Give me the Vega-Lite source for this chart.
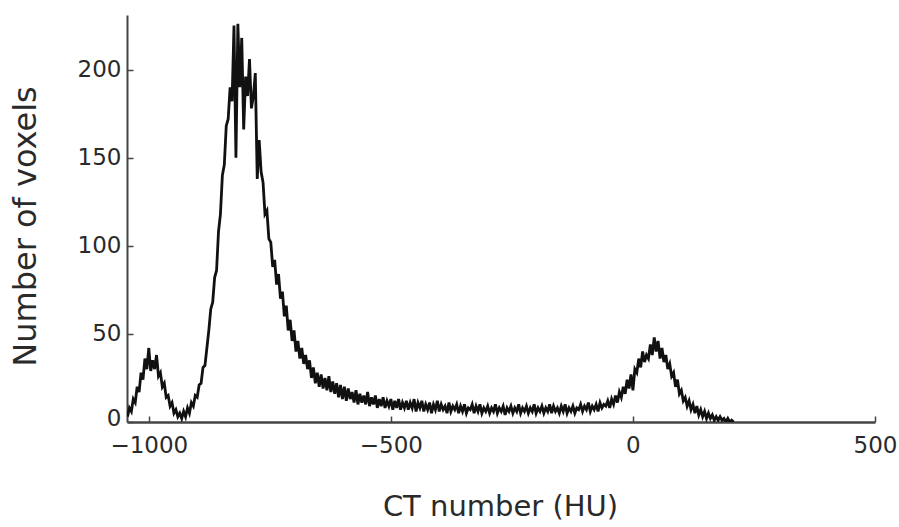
{
  "$schema": "https://vega.github.io/schema/vega-lite/v6.json",
  "width": 748,
  "height": 407,
  "autosize": "none",
  "padding": {"left": 127, "top": 15, "right": 24, "bottom": 105},
  "background": "white",
  "config": {"view": {"stroke": null}},
  "data": {"values": [
    {"hu": -1044, "n": 3}, {"hu": -1040, "n": 8}, {"hu": -1036, "n": 6}, {"hu": -1032, "n": 13}, {"hu": -1028, "n": 11},
    {"hu": -1024, "n": 20}, {"hu": -1020, "n": 17}, {"hu": -1016, "n": 28}, {"hu": -1012, "n": 24}, {"hu": -1008, "n": 36},
    {"hu": -1004, "n": 30}, {"hu": -1000, "n": 42}, {"hu": -996, "n": 29}, {"hu": -992, "n": 35}, {"hu": -988, "n": 30},
    {"hu": -984, "n": 38}, {"hu": -980, "n": 26}, {"hu": -976, "n": 28}, {"hu": -972, "n": 20}, {"hu": -968, "n": 22},
    {"hu": -964, "n": 14}, {"hu": -960, "n": 15}, {"hu": -956, "n": 9}, {"hu": -952, "n": 11}, {"hu": -948, "n": 5},
    {"hu": -944, "n": 7}, {"hu": -940, "n": 3}, {"hu": -936, "n": 5}, {"hu": -932, "n": 2}, {"hu": -928, "n": 6},
    {"hu": -924, "n": 3}, {"hu": -920, "n": 8}, {"hu": -916, "n": 5}, {"hu": -912, "n": 11}, {"hu": -908, "n": 9},
    {"hu": -904, "n": 15}, {"hu": -900, "n": 14}, {"hu": -896, "n": 21}, {"hu": -892, "n": 22}, {"hu": -888, "n": 31},
    {"hu": -884, "n": 32}, {"hu": -880, "n": 42}, {"hu": -876, "n": 52}, {"hu": -872, "n": 64}, {"hu": -868, "n": 68},
    {"hu": -864, "n": 82}, {"hu": -860, "n": 86}, {"hu": -856, "n": 108}, {"hu": -852, "n": 118}, {"hu": -848, "n": 140},
    {"hu": -844, "n": 146}, {"hu": -840, "n": 168}, {"hu": -836, "n": 172}, {"hu": -832, "n": 190}, {"hu": -828, "n": 182},
    {"hu": -824, "n": 225}, {"hu": -820, "n": 150}, {"hu": -816, "n": 226}, {"hu": -812, "n": 190}, {"hu": -808, "n": 218},
    {"hu": -804, "n": 166}, {"hu": -800, "n": 196}, {"hu": -796, "n": 185}, {"hu": -792, "n": 206}, {"hu": -788, "n": 178},
    {"hu": -784, "n": 185}, {"hu": -780, "n": 198}, {"hu": -776, "n": 138}, {"hu": -772, "n": 160}, {"hu": -768, "n": 142},
    {"hu": -764, "n": 136}, {"hu": -760, "n": 118}, {"hu": -756, "n": 120}, {"hu": -752, "n": 104}, {"hu": -748, "n": 102},
    {"hu": -744, "n": 88}, {"hu": -740, "n": 92}, {"hu": -736, "n": 78}, {"hu": -732, "n": 84}, {"hu": -728, "n": 70},
    {"hu": -724, "n": 74}, {"hu": -720, "n": 60}, {"hu": -716, "n": 66}, {"hu": -712, "n": 52}, {"hu": -708, "n": 58},
    {"hu": -704, "n": 46}, {"hu": -700, "n": 52}, {"hu": -696, "n": 40}, {"hu": -692, "n": 46}, {"hu": -688, "n": 36},
    {"hu": -684, "n": 42}, {"hu": -680, "n": 33}, {"hu": -676, "n": 38}, {"hu": -672, "n": 30}, {"hu": -668, "n": 35},
    {"hu": -664, "n": 25}, {"hu": -660, "n": 31}, {"hu": -656, "n": 22}, {"hu": -652, "n": 28}, {"hu": -648, "n": 20},
    {"hu": -644, "n": 27}, {"hu": -640, "n": 19}, {"hu": -636, "n": 25}, {"hu": -632, "n": 18}, {"hu": -628, "n": 26},
    {"hu": -624, "n": 17}, {"hu": -620, "n": 23}, {"hu": -616, "n": 16}, {"hu": -612, "n": 22}, {"hu": -608, "n": 14},
    {"hu": -604, "n": 21}, {"hu": -600, "n": 13}, {"hu": -596, "n": 20}, {"hu": -592, "n": 12}, {"hu": -588, "n": 19},
    {"hu": -584, "n": 13}, {"hu": -580, "n": 17}, {"hu": -576, "n": 11}, {"hu": -572, "n": 18}, {"hu": -568, "n": 10},
    {"hu": -564, "n": 16}, {"hu": -560, "n": 11}, {"hu": -556, "n": 15}, {"hu": -552, "n": 10}, {"hu": -548, "n": 17},
    {"hu": -544, "n": 9}, {"hu": -540, "n": 14}, {"hu": -536, "n": 10}, {"hu": -532, "n": 15}, {"hu": -528, "n": 8},
    {"hu": -524, "n": 13}, {"hu": -520, "n": 9}, {"hu": -516, "n": 14}, {"hu": -512, "n": 8}, {"hu": -508, "n": 12},
    {"hu": -504, "n": 9}, {"hu": -500, "n": 13}, {"hu": -496, "n": 7}, {"hu": -492, "n": 12}, {"hu": -488, "n": 8},
    {"hu": -484, "n": 13}, {"hu": -480, "n": 7}, {"hu": -476, "n": 11}, {"hu": -472, "n": 8}, {"hu": -468, "n": 12},
    {"hu": -464, "n": 7}, {"hu": -460, "n": 11}, {"hu": -456, "n": 8}, {"hu": -452, "n": 13}, {"hu": -448, "n": 6},
    {"hu": -444, "n": 11}, {"hu": -440, "n": 8}, {"hu": -436, "n": 12}, {"hu": -432, "n": 6}, {"hu": -428, "n": 10},
    {"hu": -424, "n": 7}, {"hu": -420, "n": 11}, {"hu": -416, "n": 5}, {"hu": -412, "n": 10}, {"hu": -408, "n": 7},
    {"hu": -404, "n": 12}, {"hu": -400, "n": 6}, {"hu": -396, "n": 10}, {"hu": -392, "n": 7}, {"hu": -388, "n": 9},
    {"hu": -384, "n": 5}, {"hu": -380, "n": 11}, {"hu": -376, "n": 6}, {"hu": -372, "n": 9}, {"hu": -368, "n": 7},
    {"hu": -364, "n": 10}, {"hu": -360, "n": 5}, {"hu": -356, "n": 9}, {"hu": -352, "n": 6}, {"hu": -348, "n": 10},
    {"hu": -344, "n": 5}, {"hu": -340, "n": 8}, {"hu": -336, "n": 7}, {"hu": -332, "n": 10}, {"hu": -328, "n": 5},
    {"hu": -324, "n": 9}, {"hu": -320, "n": 6}, {"hu": -316, "n": 10}, {"hu": -312, "n": 5}, {"hu": -308, "n": 8},
    {"hu": -304, "n": 6}, {"hu": -300, "n": 9}, {"hu": -296, "n": 5}, {"hu": -292, "n": 8}, {"hu": -288, "n": 6},
    {"hu": -284, "n": 10}, {"hu": -280, "n": 5}, {"hu": -276, "n": 8}, {"hu": -272, "n": 6}, {"hu": -268, "n": 9},
    {"hu": -264, "n": 4}, {"hu": -260, "n": 8}, {"hu": -256, "n": 6}, {"hu": -252, "n": 9}, {"hu": -248, "n": 5},
    {"hu": -244, "n": 8}, {"hu": -240, "n": 6}, {"hu": -236, "n": 10}, {"hu": -232, "n": 5}, {"hu": -228, "n": 8},
    {"hu": -224, "n": 6}, {"hu": -220, "n": 9}, {"hu": -216, "n": 5}, {"hu": -212, "n": 8}, {"hu": -208, "n": 6},
    {"hu": -204, "n": 10}, {"hu": -200, "n": 5}, {"hu": -196, "n": 8}, {"hu": -192, "n": 6}, {"hu": -188, "n": 9},
    {"hu": -184, "n": 5}, {"hu": -180, "n": 8}, {"hu": -176, "n": 6}, {"hu": -172, "n": 10}, {"hu": -168, "n": 5},
    {"hu": -164, "n": 9}, {"hu": -160, "n": 6}, {"hu": -156, "n": 8}, {"hu": -152, "n": 5}, {"hu": -148, "n": 9},
    {"hu": -144, "n": 6}, {"hu": -140, "n": 10}, {"hu": -136, "n": 5}, {"hu": -132, "n": 8}, {"hu": -128, "n": 6},
    {"hu": -124, "n": 9}, {"hu": -120, "n": 5}, {"hu": -116, "n": 8}, {"hu": -112, "n": 7}, {"hu": -108, "n": 10},
    {"hu": -104, "n": 6}, {"hu": -100, "n": 9}, {"hu": -96, "n": 7}, {"hu": -92, "n": 11}, {"hu": -88, "n": 6},
    {"hu": -84, "n": 9}, {"hu": -80, "n": 7}, {"hu": -76, "n": 10}, {"hu": -72, "n": 6}, {"hu": -68, "n": 11},
    {"hu": -64, "n": 8}, {"hu": -60, "n": 10}, {"hu": -56, "n": 9}, {"hu": -52, "n": 12}, {"hu": -48, "n": 8},
    {"hu": -44, "n": 13}, {"hu": -40, "n": 10}, {"hu": -36, "n": 15}, {"hu": -32, "n": 11}, {"hu": -28, "n": 17},
    {"hu": -24, "n": 14}, {"hu": -20, "n": 20}, {"hu": -16, "n": 16}, {"hu": -12, "n": 24}, {"hu": -8, "n": 19},
    {"hu": -4, "n": 27}, {"hu": 0, "n": 18}, {"hu": 4, "n": 30}, {"hu": 8, "n": 28}, {"hu": 12, "n": 36},
    {"hu": 16, "n": 31}, {"hu": 20, "n": 40}, {"hu": 24, "n": 34}, {"hu": 28, "n": 38}, {"hu": 32, "n": 36},
    {"hu": 36, "n": 44}, {"hu": 40, "n": 38}, {"hu": 44, "n": 48}, {"hu": 48, "n": 40}, {"hu": 52, "n": 46},
    {"hu": 56, "n": 36}, {"hu": 60, "n": 42}, {"hu": 64, "n": 34}, {"hu": 68, "n": 38}, {"hu": 72, "n": 30},
    {"hu": 76, "n": 33}, {"hu": 80, "n": 26}, {"hu": 84, "n": 28}, {"hu": 88, "n": 20}, {"hu": 92, "n": 24},
    {"hu": 96, "n": 16}, {"hu": 100, "n": 18}, {"hu": 104, "n": 12}, {"hu": 108, "n": 14}, {"hu": 112, "n": 9},
    {"hu": 116, "n": 12}, {"hu": 120, "n": 7}, {"hu": 124, "n": 10}, {"hu": 128, "n": 5}, {"hu": 132, "n": 9},
    {"hu": 136, "n": 4}, {"hu": 140, "n": 7}, {"hu": 144, "n": 3}, {"hu": 148, "n": 6}, {"hu": 152, "n": 2},
    {"hu": 156, "n": 5}, {"hu": 160, "n": 2}, {"hu": 164, "n": 4}, {"hu": 168, "n": 1}, {"hu": 172, "n": 3},
    {"hu": 176, "n": 1}, {"hu": 180, "n": 3}, {"hu": 184, "n": 1}, {"hu": 188, "n": 2}, {"hu": 192, "n": 0},
    {"hu": 196, "n": 2}, {"hu": 200, "n": 0}, {"hu": 204, "n": 1}, {"hu": 208, "n": 0}
  ]},
  "mark": {"type": "line", "color": "#111111", "strokeWidth": 2.8, "strokeJoin": "miter", "clip": true},
  "encoding": {
    "x": {
      "field": "hu", "type": "quantitative",
      "scale": {"domain": [-1045, 500], "nice": false, "zero": false},
      "axis": {
        "title": "CT number (HU)", "values": [-1000, -500, 0, 500], "format": "d",
        "grid": false, "domain": true, "domainColor": "#444444", "domainWidth": 2.5,
        "ticks": true, "tickSize": -6, "tickColor": "#444444", "tickWidth": 1.5,
        "labelFont": "DejaVu Sans", "labelFontSize": 23, "labelColor": "#2a2a2a", "labelPadding": 18,
        "labelFlush": false, "labelOverlap": false,
        "titleFont": "DejaVu Sans", "titleFontSize": 29, "titleFontWeight": "normal", "titleColor": "#2a2a2a",
        "titleX": 373, "titleY": 93, "titleBaseline": "alphabetic", "titleAlign": "center"
      }
    },
    "y": {
      "field": "n", "type": "quantitative",
      "scale": {"domain": [0, 231], "nice": false},
      "axis": {
        "title": "Number of voxels", "values": [0, 50, 100, 150, 200],
        "grid": false, "domain": true, "domainColor": "#444444", "domainWidth": 2,
        "ticks": true, "tickSize": -6, "tickColor": "#444444", "tickWidth": 1.5,
        "labelFont": "DejaVu Sans", "labelFontSize": 23, "labelColor": "#2a2a2a", "labelPadding": 12,
        "labelOffset": {"condition": {"test": "datum.value === 0", "value": -4}, "value": 0},
        "labelFlush": false, "labelOverlap": false,
        "titleFont": "DejaVu Sans", "titleFontSize": 32, "titleFontWeight": "normal", "titleColor": "#2a2a2a",
        "titleX": -92, "titleY": 211, "titleBaseline": "alphabetic", "titleAlign": "center", "titleAngle": -90
      }
    }
  }
}
